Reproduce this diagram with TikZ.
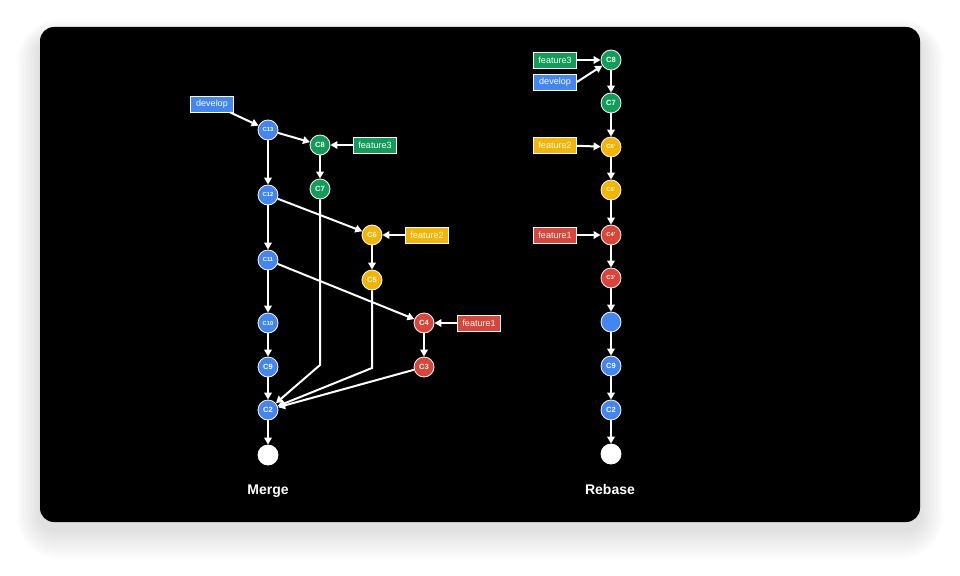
\documentclass[tikz,border=0pt]{standalone}
\usepackage{fontspec}
\setsansfont{Liberation Sans}
\usetikzlibrary{arrows.meta}

\definecolor{gblue}{HTML}{4285F4}
\definecolor{ggreen}{HTML}{0F9D58}
\definecolor{gyellow}{HTML}{F4B400}
\definecolor{gred}{HTML}{DB4437}

\tikzset{
  commit/.style={circle, draw=white, line width=0.8pt, minimum size=20pt, inner sep=0pt,
    text=white, font=\sffamily\bfseries\fontsize{7.5}{7.5}\selectfont},
  tiny/.style={font=\sffamily\bfseries\fontsize{5.8}{6}\selectfont},
  branch/.style={rectangle, draw=white, line width=0.9pt, minimum width=43pt, minimum height=16pt,
    inner sep=1pt, text=white, font=\sffamily\fontsize{9}{9}\selectfont},
  link/.style={->, white, line width=2pt},
  caption/.style={text=white, font=\sffamily\bfseries\fontsize{14}{14}\selectfont}
}

\begin{document}
\begin{tikzpicture}[x=1pt, y=-1pt, >={Triangle[length=7pt,width=7.5pt]}]
    \useasboundingbox (0,0) rectangle (960,575);
    \fill[white] (0,0) rectangle (960,575);

    % Shadow and panel
    \foreach \i in {1,...,30}
        \fill[black, opacity=0.005, rounded corners=14+\i] (40-0.8*\i,37-0.6*\i) rectangle (920+0.8*\i,530+\i);
    \fill[black, rounded corners=14] (40,27) rectangle (920,522);

    % Merge: commits
    \node[commit, fill=gblue, tiny] (m13) at (268,130) {C13};
    \node[commit, fill=ggreen] (m8) at (320,145) {C8};
    \node[commit, fill=ggreen] (m7) at (320,189) {C7};
    \node[commit, fill=gblue, tiny] (m12) at (268,195) {C12};
    \node[commit, fill=gyellow] (m6) at (372,235) {C6};
    \node[commit, fill=gyellow] (m5) at (372,280) {C5};
    \node[commit, fill=gblue, tiny] (m11) at (268,260) {C11};
    \node[commit, fill=gblue, tiny] (m10) at (268,323) {C10};
    \node[commit, fill=gred] (m4) at (424,323) {C4};
    \node[commit, fill=gblue] (m9) at (268,367) {C9};
    \node[commit, fill=gred] (m3) at (424,367) {C3};
    \node[commit, fill=gblue] (m2) at (268,410) {C2};
    \node[commit, fill=white] (m1) at (268,455) {};

    % Merge: branches
    \node[branch, fill=gblue] (mdev) at (212,104) {develop};
    \node[branch, fill=ggreen] (mf3) at (375,145) {feature3};
    \node[branch, fill=gyellow] (mf2) at (427,235) {feature2};
    \node[branch, fill=gred] (mf1) at (479,323) {feature1};

    \coordinate (m7end) at (320,365);
    \coordinate (m5end) at (372,368);

    % Merge: links
    \draw[link] (mdev) -- (m13);
    \draw[link] (m13) -- (m8);
    \draw[link] (mf3) -- (m8);
    \draw[link] (m8) -- (m7);
    \draw[link] (m13) -- (m12);
    \draw[link] (m12) -- (m6);
    \draw[link] (mf2) -- (m6);
    \draw[link] (m6) -- (m5);
    \draw[link] (m12) -- (m11);
    \draw[link] (m11) -- (m4);
    \draw[link] (mf1) -- (m4);
    \draw[link] (m4) -- (m3);
    \draw[link] (m11) -- (m10);
    \draw[link] (m10) -- (m9);
    \draw[link] (m9) -- (m2);
    \draw[link] (m2) -- (m1);
    \draw[link] (m7) -- (m7end) -- (m2);
    \draw[link] (m5) -- (m5end) -- (m2);
    \draw[link] (m3) -- (m2);

    \node[caption] (mergelabel) at (268,491) {Merge};

    % Rebase: commits
    \node[commit, fill=ggreen] (r8) at (611,60) {C8};
    \node[commit, fill=ggreen] (r7) at (611,103) {C7};
    \node[commit, fill=gyellow, tiny] (r6) at (611,147) {C6'};
    \node[commit, fill=gyellow, tiny] (r5) at (611,190) {C5'};
    \node[commit, fill=gred, tiny] (r4) at (611,235) {C4'};
    \node[commit, fill=gred, tiny] (r3) at (611,278) {C3'};
    \node[commit, fill=gblue] (r10) at (611,322) {};
    \node[commit, fill=gblue] (r9) at (611,366) {C9};
    \node[commit, fill=gblue] (r2) at (611,410) {C2};
    \node[commit, fill=white] (r1) at (611,454) {};

    % Rebase: branches
    \node[branch, fill=ggreen] (rf3) at (555,60) {feature3};
    \node[branch, fill=gblue] (rdev) at (555,82) {develop};
    \node[branch, fill=gyellow] (rf2) at (555,145) {feature2};
    \node[branch, fill=gred] (rf1) at (555,235) {feature1};

    % Rebase: links
    \draw[link] (rf3) -- (r8);
    \draw[link] (rdev.east) -- (r8);
    \draw[link] (r8) -- (r7);
    \draw[link] (r7) -- (r6);
    \draw[link] (rf2) -- (r6);
    \draw[link] (r6) -- (r5);
    \draw[link] (r5) -- (r4);
    \draw[link] (rf1) -- (r4);
    \draw[link] (r4) -- (r3);
    \draw[link] (r3) -- (r10);
    \draw[link] (r10) -- (r9);
    \draw[link] (r9) -- (r2);
    \draw[link] (r2) -- (r1);

    \node[caption] (rebaselabel) at (610,489) {Rebase};
\end{tikzpicture}
\end{document}
